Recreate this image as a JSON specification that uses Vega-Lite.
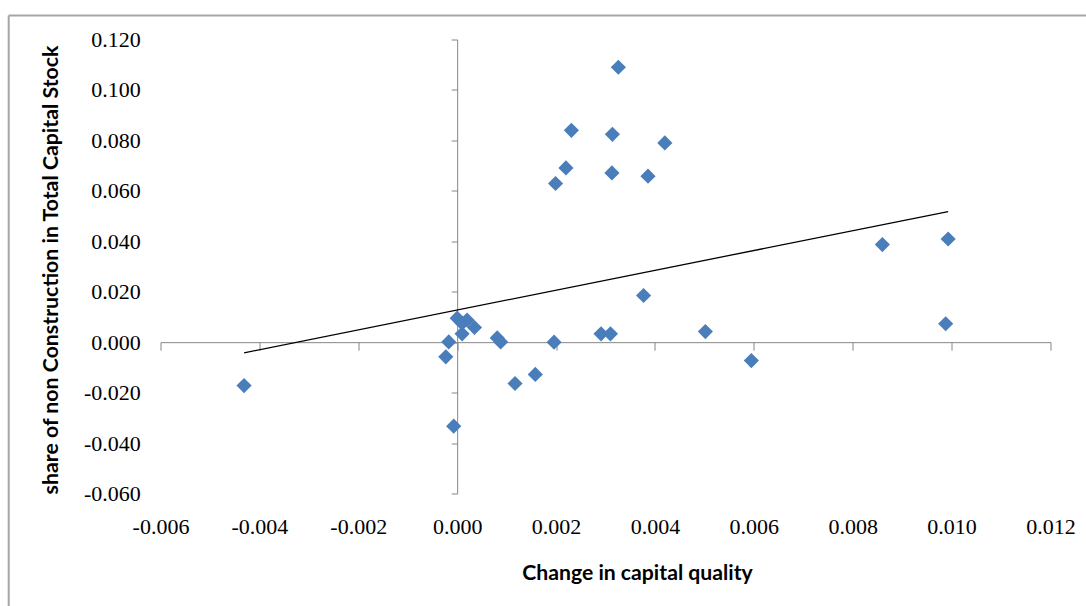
{
  "$schema": "https://vega.github.io/schema/vega-lite/v6.json",
  "width": 890,
  "height": 454,
  "autosize": {"type": "none"},
  "padding": {"left": 160.5, "top": 39.5, "right": 35.5, "bottom": 112.5},
  "background": "white",
  "config": {"view": {"stroke": null}, "axis": {"grid": false}},
  "data": {
    "values": [
      {"quality": -0.00431, "share": -0.0172},
      {"quality": -0.00007, "share": -0.0333},
      {"quality": -0.00023, "share": -0.0058},
      {"quality": -0.00017, "share": 0.0001},
      {"quality": 0.00000, "share": 0.0095},
      {"quality": 0.00010, "share": 0.0075},
      {"quality": 0.00020, "share": 0.0088},
      {"quality": 0.00035, "share": 0.0058},
      {"quality": 0.00010, "share": 0.0033},
      {"quality": 0.00081, "share": 0.0017},
      {"quality": 0.00088, "share": 0.0001},
      {"quality": 0.00117, "share": -0.0164},
      {"quality": 0.00158, "share": -0.0128},
      {"quality": 0.00196, "share": 0.0000},
      {"quality": 0.00291, "share": 0.0033},
      {"quality": 0.00310, "share": 0.0033},
      {"quality": 0.00502, "share": 0.0042},
      {"quality": 0.00595, "share": -0.0073},
      {"quality": 0.00988, "share": 0.0073},
      {"quality": 0.00377, "share": 0.0185},
      {"quality": 0.00860, "share": 0.0387},
      {"quality": 0.00993, "share": 0.0409},
      {"quality": 0.00199, "share": 0.0629},
      {"quality": 0.00220, "share": 0.0691},
      {"quality": 0.00231, "share": 0.0840},
      {"quality": 0.00313, "share": 0.0671},
      {"quality": 0.00314, "share": 0.0824},
      {"quality": 0.00326, "share": 0.1090},
      {"quality": 0.00386, "share": 0.0658},
      {"quality": 0.00420, "share": 0.0790}
    ]
  },
  "layer": [
    {
      "mark": {"type": "point", "shape": "diamond", "filled": true, "size": 230, "color": "#4a7ebb", "opacity": 1},
      "encoding": {
        "x": {
          "field": "quality", "type": "quantitative",
          "scale": {"domain": [-0.006, 0.012], "nice": false, "zero": false},
          "axis": {
            "title": "Change in capital quality",
            "values": [-0.006, -0.004, -0.002, 0, 0.002, 0.004, 0.006, 0.008, 0.01, 0.012],
            "labelExpr": "replace(format(datum.value, '.3f'), '\u2212', '-')",
            "offset": -151.33,
            "domainColor": "#868686",
            "tickColor": "#868686",
            "tickSize": 8,
            "labelPadding": 176,
            "labelBaseline": "middle",
            "labelFont": "Liberation Serif",
            "labelFontSize": 22,
            "labelColor": "#000000",
            "labelFlush": false,
            "labelOverlap": false,
            "titleFont": "Lato",
            "titleFontSize": 21.2,
            "titleFontWeight": "bold",
            "titleColor": "#000000",
            "titleX": 476.5,
            "titleY": 237.8,
            "titleBaseline": "alphabetic",
            "titleAlign": "center"
          }
        },
        "y": {
          "field": "share", "type": "quantitative",
          "scale": {"domain": [-0.06, 0.12], "nice": false, "zero": false},
          "axis": {
            "title": "share of non Construction in Total Capital Stock",
            "values": [-0.06, -0.04, -0.02, 0, 0.02, 0.04, 0.06, 0.08, 0.1, 0.12],
            "labelExpr": "replace(format(datum.value, '.3f'), '\u2212', '-')",
            "offset": -296.67,
            "domainColor": "#868686",
            "tickColor": "#868686",
            "tickSize": 6,
            "labelPadding": 310.8,
            "labelAlign": "right",
            "labelBaseline": "middle",
            "labelFont": "Liberation Serif",
            "labelFontSize": 22,
            "labelColor": "#000000",
            "labelFlush": false,
            "labelOverlap": false,
            "titleFont": "Lato",
            "titleFontSize": 21.3,
            "titleFontWeight": "bold",
            "titleColor": "#000000",
            "titleX": -405.2,
            "titleY": 230,
            "titleAngle": -90,
            "titleBaseline": "middle",
            "titleAlign": "center"
          }
        }
      }
    },
    {
      "transform": [{"regression": "share", "on": "quality"}],
      "mark": {"type": "line", "color": "#000000", "strokeWidth": 1.3},
      "encoding": {
        "x": {"field": "quality", "type": "quantitative", "title": "Change in capital quality"},
        "y": {"field": "share", "type": "quantitative", "title": "share of non Construction in Total Capital Stock"}
      }
    },
    {
      "data": {"values": [{}]},
      "mark": {"type": "rule", "color": "#a6a6a6", "strokeWidth": 2, "clip": false},
      "encoding": {
        "x": {"datum": -0.00907},
        "y": {"datum": 0.1295},
        "y2": {"datum": -0.107}
      }
    },
    {
      "data": {"values": [{}]},
      "mark": {"type": "rule", "color": "#a6a6a6", "strokeWidth": 2, "clip": false},
      "encoding": {
        "x": {"datum": -0.00907},
        "x2": {"datum": 0.0128},
        "y": {"datum": 0.1295}
      }
    }
  ]
}
